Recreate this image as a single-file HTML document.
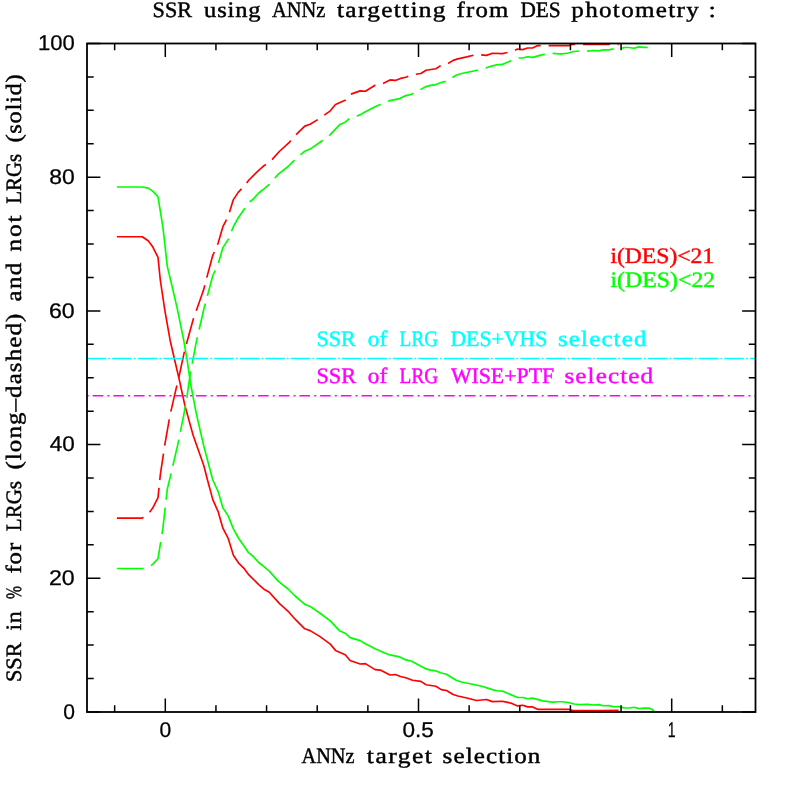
<!DOCTYPE html>
<html><head><meta charset="utf-8"><title>SSR using ANNz targetting from DES photometry</title>
<style>
html,body{margin:0;padding:0;background:#fff;}
body{width:797px;height:797px;overflow:hidden;font-family:"Liberation Sans",sans-serif;}
svg{display:block;}
text{text-rendering:geometricPrecision;}
.tx{opacity:0.999;}
.s{font-family:"Liberation Serif",serif;font-size:22px;stroke-width:0.45px;}
.n{font-family:"Liberation Sans",sans-serif;font-size:21.3px;fill:#000;stroke:#000;stroke-width:0.3px;}
</style></head><body>
<svg width="797" height="797" viewBox="0 0 797 797">
<rect x="0" y="0" width="797" height="797" fill="#fff"/>
<!-- curves -->
<g fill="none" stroke-width="1.65" stroke-linejoin="round">
<path stroke="#ff0000" d="M116.9 236.7 L142.2 236.7 L148.2 240.8 L152.7 246.8 L158.0 257.3 L160.3 280.0 L164.8 310.1 L170.1 340.2 L174.6 359.8 L179.9 382.4 L181.5 390.0 L184.8 405.1 L193.1 435.2 L203.7 465.3 L207.5 480.0 L212.8 499.6 L218.1 511.6 L222.9 528.2 L228.3 538.7 L233.4 555.3 L238.4 562.8 L243.7 568.1 L248.9 574.9 L258.7 584.6 L264.0 589.2 L269.3 592.2 L279.3 603.4 L289.0 612.2 L295.1 619.2 L304.8 628.8 L310.1 630.6 L319.7 636.4 L330.3 644.1 L335.5 650.4 L345.2 654.7 L350.1 660.5 L360.1 664.0 L365.4 663.6 L375.1 669.6 L380.3 670.1 L390.0 675.0 L395.3 674.5 L400.5 676.5 L405.8 677.7 L412.6 680.2 L420.9 681.4 L426.1 684.7 L435.9 686.2 L441.2 689.6 L446.5 690.5 L453.2 694.5 L457.8 696.0 L466.8 698.0 L476.6 700.5 L486.4 699.5 L492.4 701.6 L502.2 701.3 L506.3 702.1 L511.9 703.4 L517.6 705.9 L522.6 705.2 L527.6 706.9 L532.6 706.9 L537.6 709.3 L568.4 709.3 L572.8 710.6 L600.0 710.6 L618.6 710.2"/>
<path stroke="#00ff00" d="M116.9 187.0 L142.2 187.0 L148.2 188.1 L152.7 191.1 L158.0 196.8 L162.9 227.2 L167.3 266.4 L170.6 280.0 L177.6 310.1 L183.7 340.2 L187.1 359.8 L190.4 382.4 L191.8 390.0 L196.1 412.6 L203.7 445.7 L212.8 480.0 L218.1 491.3 L222.9 507.9 L228.3 516.1 L233.4 528.9 L238.4 538.0 L243.7 545.5 L248.5 552.7 L253.4 556.5 L258.7 562.5 L264.0 566.6 L269.3 571.1 L278.4 581.4 L288.1 589.0 L295.1 596.0 L304.8 604.3 L310.1 606.4 L319.7 613.0 L330.3 620.9 L339.9 631.1 L345.2 633.2 L350.1 637.6 L360.1 640.6 L365.4 643.8 L375.1 648.7 L384.7 652.9 L390.0 654.9 L399.8 656.9 L405.8 659.9 L411.1 661.0 L426.1 668.9 L430.7 670.1 L435.9 670.9 L441.2 673.0 L446.5 674.2 L456.2 680.2 L461.5 682.0 L471.3 684.0 L481.8 686.2 L492.4 689.6 L496.9 690.8 L502.2 691.1 L517.6 697.5 L522.6 697.5 L527.6 698.7 L532.6 698.1 L542.7 700.9 L552.7 702.1 L557.7 701.7 L562.7 701.7 L568.4 702.5 L574.0 704.0 L579.0 704.5 L587.8 704.4 L593.5 705.0 L598.8 704.6 L603.2 705.8 L608.8 705.6 L613.8 706.7 L620.1 706.5 L623.9 708.0 L628.9 708.0 L633.9 707.3 L638.9 708.6 L644.0 708.1 L649.0 708.1 L651.5 709.0 L654.0 711.1"/>
<path stroke="#ff0000" stroke-dasharray="26.8 7.9" d="M116.9 518.1 L142.2 518.1 L148.2 514.1 L152.7 508.1 L158.0 497.6 L160.3 474.9 L164.8 444.8 L170.1 414.7 L174.6 395.1 L179.9 372.5 L181.5 364.9 L184.8 349.8 L193.1 319.7 L203.7 289.6 L207.5 274.9 L212.8 255.3 L218.1 243.3 L222.9 226.7 L228.3 216.2 L233.4 199.6 L238.4 192.1 L243.7 186.8 L248.9 180.0 L258.7 170.3 L264.0 165.7 L269.3 162.7 L279.3 151.5 L289.0 142.7 L295.1 135.7 L304.8 126.1 L310.1 124.3 L319.7 118.5 L330.3 110.8 L335.5 104.5 L345.2 100.2 L350.1 94.4 L360.1 90.9 L365.4 91.3 L375.1 85.3 L380.3 84.8 L390.0 79.9 L395.3 80.4 L400.5 78.4 L405.8 77.2 L412.6 74.7 L420.9 73.5 L426.1 70.2 L435.9 68.7 L441.2 65.3 L446.5 64.4 L453.2 60.4 L457.8 58.9 L466.8 56.9 L476.6 54.4 L486.4 55.4 L492.4 53.3 L502.2 53.6 L506.3 52.8 L511.9 51.5 L517.6 49.0 L522.6 49.6 L527.6 48.0 L532.6 48.0 L537.6 45.6 L568.4 45.6 L572.8 44.3 L600.0 44.3 L618.6 44.6"/>
<path stroke="#00ff00" stroke-dasharray="26.8 7.9" d="M116.9 568.5 L142.2 568.5 L148.2 567.4 L152.7 564.4 L158.0 558.7 L162.9 528.2 L167.3 489.1 L170.6 475.5 L177.6 445.4 L183.7 415.3 L187.1 395.7 L190.4 373.1 L191.8 365.5 L196.1 342.9 L203.7 309.8 L212.8 275.5 L218.1 264.2 L222.9 247.6 L228.3 239.4 L233.4 226.6 L238.4 217.5 L243.7 210.0 L248.5 202.8 L253.4 199.0 L258.7 193.0 L264.0 188.9 L269.3 184.4 L278.4 174.1 L288.1 166.5 L295.1 159.5 L304.8 151.2 L310.1 149.1 L319.7 142.5 L330.3 134.6 L339.9 124.4 L345.2 122.2 L350.1 117.9 L360.1 114.9 L365.4 111.7 L375.1 106.8 L384.7 102.6 L390.0 100.6 L399.8 98.6 L405.8 95.6 L411.1 94.5 L426.1 86.6 L430.7 85.4 L435.9 84.6 L441.2 82.5 L446.5 81.2 L456.2 75.2 L461.5 73.5 L471.3 71.5 L481.8 69.2 L492.4 65.9 L496.9 64.7 L502.2 64.4 L517.6 58.0 L522.6 58.0 L527.6 56.8 L532.6 57.4 L542.7 54.6 L552.7 53.4 L557.7 53.8 L562.7 53.8 L568.4 53.0 L574.0 51.5 L579.0 51.0 L587.8 51.1 L593.5 50.5 L598.8 50.9 L603.2 49.7 L608.8 49.9 L613.8 48.8 L620.1 49.0 L623.9 47.5 L628.9 47.5 L633.9 48.2 L638.9 46.9 L644.0 47.4 L649.0 47.4 L651.5 46.5 L654.0 44.4"/>
<path stroke="#00ffff" stroke-width="1.6" stroke-dasharray="19.5 2.15 1.7 2.15" d="M86.8 358.5H755.5"/>
<path stroke="#ff00ff" stroke-width="1.6" stroke-dasharray="2 3.95 10.5 4.23" d="M86.7 395.7H755.5"/>
</g>
<!-- frame + ticks -->
<g fill="none" stroke="#000" stroke-width="1.5">
<path d="M114.66 711.95V705.25 M114.66 43.50V50.20 M165.30 711.95V698.55 M165.30 43.50V56.90 M215.94 711.95V705.25 M215.94 43.50V50.20 M266.58 711.95V705.25 M266.58 43.50V50.20 M317.22 711.95V705.25 M317.22 43.50V50.20 M367.86 711.95V705.25 M367.86 43.50V50.20 M418.50 711.95V698.55 M418.50 43.50V56.90 M469.14 711.95V705.25 M469.14 43.50V50.20 M519.78 711.95V705.25 M519.78 43.50V50.20 M570.42 711.95V705.25 M570.42 43.50V50.20 M621.06 711.95V705.25 M621.06 43.50V50.20 M671.70 711.95V698.55 M671.70 43.50V56.90 M722.34 711.95V705.25 M722.34 43.50V50.20 M87.00 711.95H100.40 M755.50 711.95H742.10 M87.00 678.53H93.70 M755.50 678.53H748.80 M87.00 645.11H93.70 M755.50 645.11H748.80 M87.00 611.68H93.70 M755.50 611.68H748.80 M87.00 578.26H100.40 M755.50 578.26H742.10 M87.00 544.84H93.70 M755.50 544.84H748.80 M87.00 511.42H93.70 M755.50 511.42H748.80 M87.00 477.99H93.70 M755.50 477.99H748.80 M87.00 444.57H100.40 M755.50 444.57H742.10 M87.00 411.15H93.70 M755.50 411.15H748.80 M87.00 377.73H93.70 M755.50 377.73H748.80 M87.00 344.30H93.70 M755.50 344.30H748.80 M87.00 310.88H100.40 M755.50 310.88H742.10 M87.00 277.46H93.70 M755.50 277.46H748.80 M87.00 244.03H93.70 M755.50 244.03H748.80 M87.00 210.61H93.70 M755.50 210.61H748.80 M87.00 177.19H100.40 M755.50 177.19H742.10 M87.00 143.77H93.70 M755.50 143.77H748.80 M87.00 110.35H93.70 M755.50 110.35H748.80 M87.00 76.92H93.70 M755.50 76.92H748.80 M87.00 43.50H100.40 M755.50 43.50H742.10"/>
<rect x="87.0" y="43.5" width="668.5" height="668.5" stroke-width="1.8"/>
</g>
<!-- labels -->
<g class="tx">
<g stroke="#000" fill="#000">
<text class="s" transform="translate(152.6 16.5) scale(1.0065 1)" textLength="39.15" lengthAdjust="spacing">SSR</text>
<text class="s" transform="translate(204.1 16.5) scale(1.1164 1)" textLength="50.56" lengthAdjust="spacing">using</text>
<text class="s" transform="translate(271.9 16.5) scale(0.9290 1)" textLength="57.43" lengthAdjust="spacing">ANNz</text>
<text class="s" transform="translate(337.0 16.5) scale(1.1544 1)" textLength="93.95" lengthAdjust="spacing">targetting</text>
<text class="s" transform="translate(456.5 16.5) scale(1.1255 1)" textLength="45.98" lengthAdjust="spacing">from</text>
<text class="s" transform="translate(520.5 16.5) scale(0.9684 1)" textLength="41.56" lengthAdjust="spacing">DES</text>
<text class="s" transform="translate(571.3 16.5) scale(1.1420 1)" textLength="111.65" lengthAdjust="spacing">photometry</text>
<text class="s" transform="translate(708.6 16.5) scale(1.2188 1)" textLength="6.11" lengthAdjust="spacing">:</text>
<text class="s" transform="translate(301.5 762.5) scale(0.9220 1)" textLength="57.43" lengthAdjust="spacing">ANNz</text>
<text class="s" transform="translate(366.8 762.5) scale(1.1613 1)" textLength="56.14" lengthAdjust="spacing">target</text>
<text class="s" transform="translate(442.6 762.5) scale(1.1398 1)" textLength="85.81" lengthAdjust="spacing">selection</text>
<text class="s" transform="translate(20.9 682.0) rotate(-90) scale(1.0116 1)" textLength="39.15" lengthAdjust="spacing">SSR</text>
<text class="s" transform="translate(20.9 630.6) rotate(-90) scale(1.0978 1)" textLength="17.63" lengthAdjust="spacing">in</text>
<text class="s" transform="translate(20.9 599.0) rotate(-90) scale(0.7094 1)" textLength="18.33" lengthAdjust="spacing">%</text>
<text class="s" transform="translate(20.9 573.6) rotate(-90) scale(1.1222 1)" textLength="27.45" lengthAdjust="spacing">for</text>
<text class="s" transform="translate(20.9 531.2) rotate(-90) scale(0.9560 1)" textLength="52.56" lengthAdjust="spacing">LRGs</text>
<text class="s" transform="translate(20.9 469.6) rotate(-90) scale(1.1356 1)" textLength="137.29" lengthAdjust="spacing">(long–dashed)</text>
<text class="s" transform="translate(20.9 301.5) rotate(-90) scale(1.1295 1)" textLength="34.35" lengthAdjust="spacing">and</text>
<text class="s" transform="translate(20.9 251.4) rotate(-90) scale(1.1483 1)" textLength="31.22" lengthAdjust="spacing">not</text>
<text class="s" transform="translate(20.9 203.7) rotate(-90) scale(0.9484 1)" textLength="52.56" lengthAdjust="spacing">LRGs</text>
<text class="s" transform="translate(20.9 142.6) rotate(-90) scale(1.1176 1)" textLength="61.03" lengthAdjust="spacing">(solid)</text>
</g>
<g><text class="s" transform="translate(316.4 346.1) scale(1.0091 1)" textLength="39.15" lengthAdjust="spacing" fill="#00ffff" stroke="#00ffff">SSR</text>
<text class="s" transform="translate(367.8 346.1) scale(1.0586 1)" textLength="18.33" lengthAdjust="spacing" fill="#00ffff" stroke="#00ffff">of</text>
<text class="s" transform="translate(399.6 346.1) scale(0.8784 1)" textLength="44.00" lengthAdjust="spacing" fill="#00ffff" stroke="#00ffff">LRG</text>
<text class="s" transform="translate(450.4 346.1) scale(0.9900 1)" textLength="97.98" lengthAdjust="spacing" fill="#00ffff" stroke="#00ffff">DES+VHS</text>
<text class="s" transform="translate(558.0 346.1) scale(1.1390 1)" textLength="77.66" lengthAdjust="spacing" fill="#00ffff" stroke="#00ffff">selected</text></g>
<g><text class="s" transform="translate(316.4 382.7) scale(1.0154 1)" textLength="39.15" lengthAdjust="spacing" fill="#ff00ff" stroke="#ff00ff">SSR</text>
<text class="s" transform="translate(367.8 382.7) scale(1.0586 1)" textLength="18.33" lengthAdjust="spacing" fill="#ff00ff" stroke="#ff00ff">of</text>
<text class="s" transform="translate(399.6 382.7) scale(0.8784 1)" textLength="44.00" lengthAdjust="spacing" fill="#ff00ff" stroke="#ff00ff">LRG</text>
<text class="s" transform="translate(450.9 382.7) scale(0.9920 1)" textLength="104.08" lengthAdjust="spacing" fill="#ff00ff" stroke="#ff00ff">WISE+PTF</text>
<text class="s" transform="translate(564.4 382.7) scale(1.1400 1)" textLength="77.76" lengthAdjust="spacing" fill="#ff00ff" stroke="#ff00ff">selected</text></g>
<g><text class="s" transform="translate(610.4 262.7) scale(1.0730 1)" textLength="96.74" lengthAdjust="spacing" fill="#ff0000" stroke="#ff0000">i(DES)&lt;21</text></g>
<g><text class="s" transform="translate(610.4 286.9) scale(1.0814 1)" textLength="96.96" lengthAdjust="spacing" fill="#00ff00" stroke="#00ff00">i(DES)&lt;22</text></g>
<g>
<text class="n" transform="translate(159.55 737.30) scale(0.9877 1)">0</text>
<text class="n" transform="translate(402.55 737.30) scale(1.0588 1)">0.5</text>
<text class="n" transform="translate(667.80 737.30) scale(0.6585 1)">1</text>
<text class="n" transform="translate(38.00 50.20) scale(1.0356 1)">100</text>
<text class="n" transform="translate(49.20 183.89) scale(1.0764 1)">80</text>
<text class="n" transform="translate(48.95 317.58) scale(1.0869 1)">60</text>
<text class="n" transform="translate(49.70 451.27) scale(1.0553 1)">40</text>
<text class="n" transform="translate(48.95 584.96) scale(1.0869 1)">20</text>
<text class="n" transform="translate(63.15 718.65) scale(0.9877 1)">0</text>
</g>
</g>
</svg>
</body></html>
